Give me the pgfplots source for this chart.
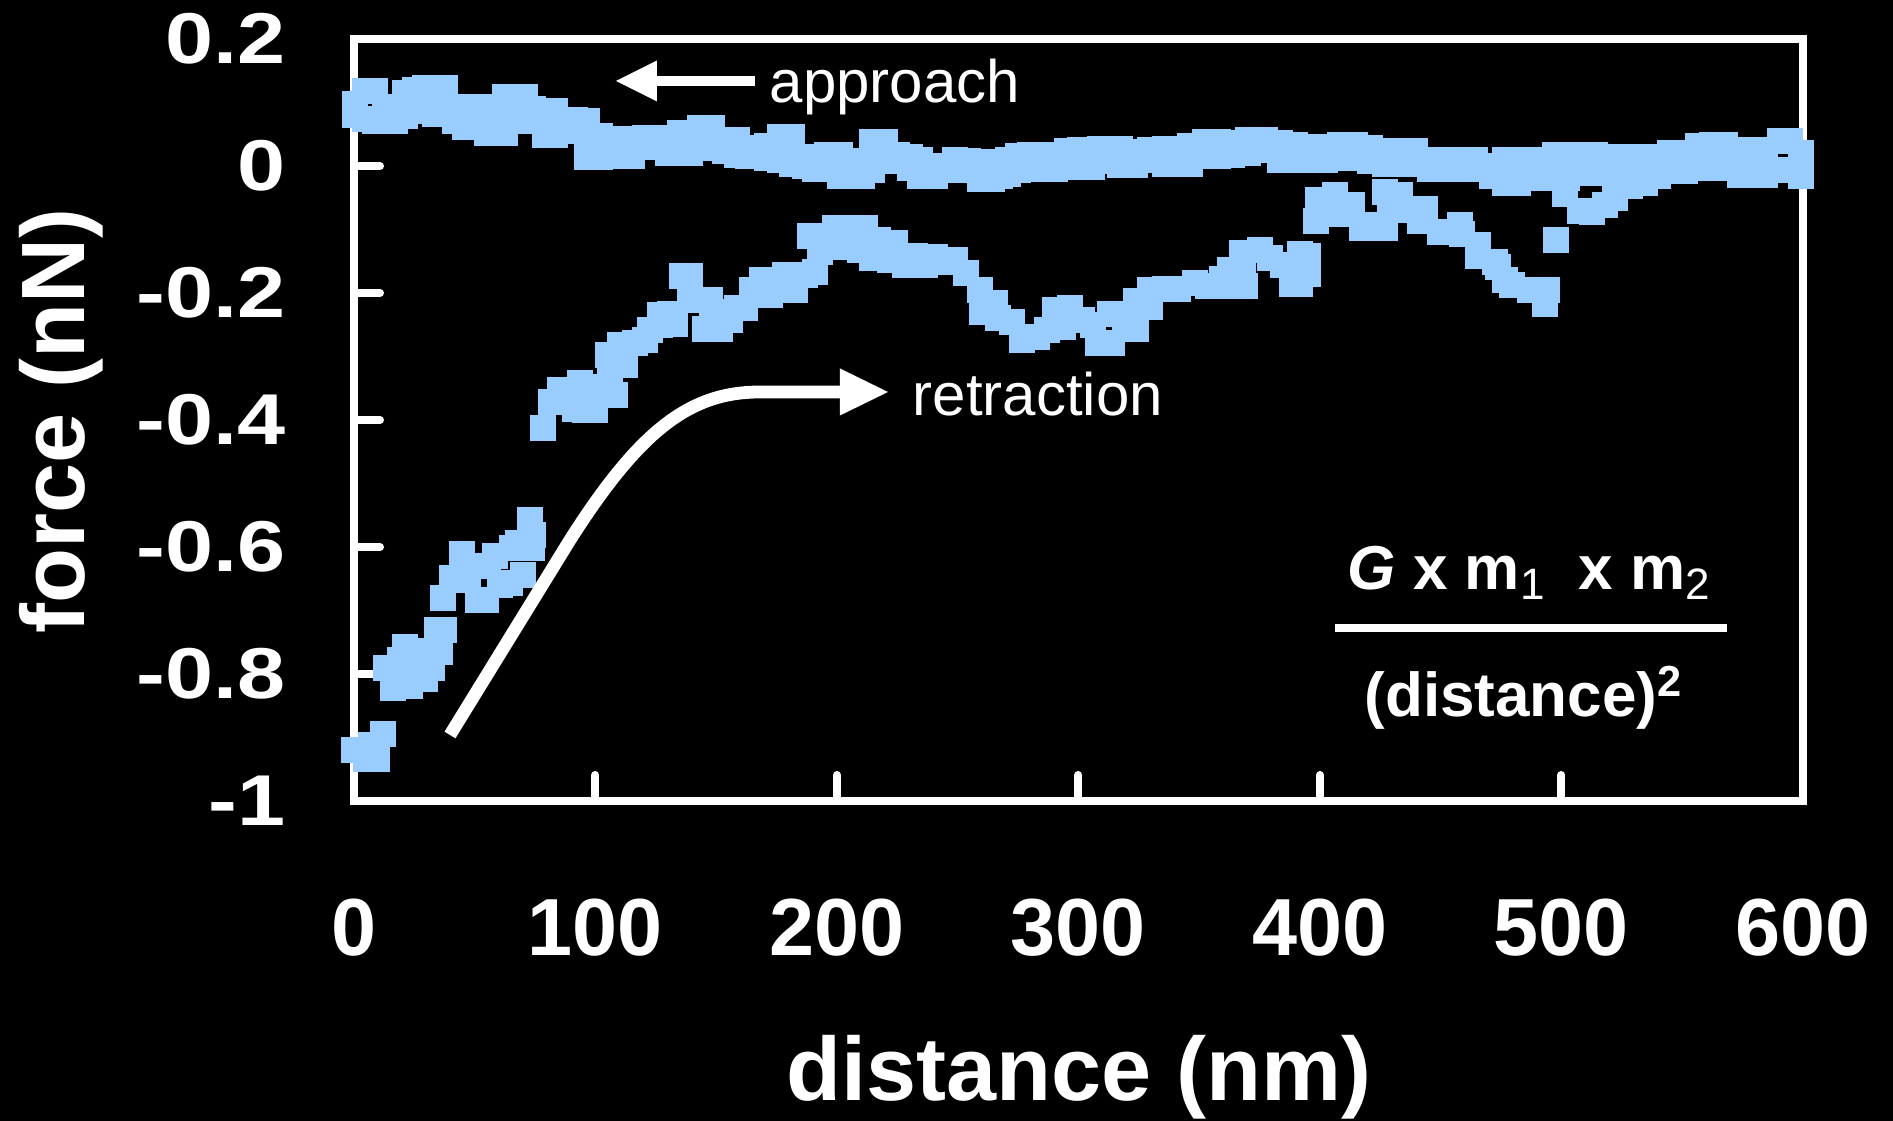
\documentclass[border=0pt]{standalone}
\usepackage{graphicx}
\usepackage{pgfplots}
\pgfplotsset{compat=1.18}
\usepackage{pgfplotstable}
\usepackage{fontspec}
\setmainfont{Liberation Sans}
\definecolor{lb}{RGB}{153,204,255}

\pgfplotstableread{
nm up lo
0.4 0.0973 0.0800
4.6 0.1186 0.0745
8.7 0.1186 0.0713
12.8 0.0934 0.0713
17.0 0.0934 0.0713
21.1 0.1154 0.0792
25.3 0.1202 0.0871
29.4 0.1233 0.0981
33.5 0.1233 0.0824
37.7 0.1233 0.0824
41.8 0.0918 0.0713
46.0 0.0934 0.0619
50.1 0.0934 0.0619
55.1 0.0934 0.0524
59.2 0.0792 0.0524
62.5 0.1091 0.0524
66.7 0.1091 0.0713
70.8 0.1091 0.0713
74.1 0.0902 0.0713
79.1 0.0871 0.0493
83.2 0.0871 0.0493
87.4 0.0729 0.0556
91.5 0.0729 0.0556
96.5 0.0713 0.0146
101.9 0.0477 0.0146
106.8 0.0430 0.0288
111.0 0.0430 0.0162
115.1 0.0430 0.0162
120.5 0.0446 0.0304
125.5 0.0446 0.0304
130.0 0.0446 0.0209
135.0 0.0524 0.0209
139.1 0.0524 0.0209
143.3 0.0603 0.0288
148.2 0.0603 0.0288
153.6 0.0414 0.0241
158.6 0.0414 0.0178
163.1 0.0288 0.0162
167.3 0.0288 0.0162
171.0 0.0320 0.0131
176.4 0.0461 0.0099
181.4 0.0461 0.0036
186.7 0.0146 0.0005
190.9 0.0146 -0.0043
195.9 0.0178 -0.0043
201.2 0.0178 -0.0153
206.2 0.0052 -0.0153
210.4 0.0083 -0.0153
214.5 0.0383 -0.0058
219.9 0.0383 0.0083
224.8 0.0178 0.0099
230.2 0.0146 -0.0027
234.4 0.0099 -0.0153
240.6 0.0005 -0.0153
248.9 0.0099 -0.0058
254.2 0.0083 0.0036
259.2 0.0068 -0.0200
264.2 0.0068 -0.0200
267.5 0.0052 -0.0153
270.8 0.0099 -0.0121
274.9 0.0162 -0.0058
279.9 0.0178 0.0036
284.9 0.0178 -0.0043
290.3 0.0178 -0.0043
295.2 0.0241 -0.0011
300.6 0.0257 -0.0011
305.6 0.0257 -0.0011
308.9 0.0272 0.0083
313.0 0.0272 0.0083
317.2 0.0272 0.0020
323.4 0.0225 0.0020
329.6 0.0257 0.0099
335.8 0.0272 0.0036
341.2 0.0272 0.0036
346.2 0.0320 0.0036
352.4 0.0383 0.0162
357.8 0.0383 0.0162
363.6 0.0367 0.0178
370.2 0.0414 0.0209
377.2 0.0414 0.0257
383.4 0.0367 0.0099
389.6 0.0335 0.0099
395.9 0.0304 0.0099
402.1 0.0304 0.0099
408.3 0.0335 0.0131
414.5 0.0335 0.0131
420.7 0.0288 0.0083
426.9 0.0241 0.0036
433.1 0.0241 0.0036
439.3 0.0241 0.0036
445.5 0.0099 -0.0043
451.8 0.0099 -0.0043
458.0 0.0099 -0.0043
464.2 0.0099 -0.0043
471.2 0.0005 -0.0153
476.6 0.0099 -0.0263
482.0 0.0099 -0.0263
487.0 0.0099 -0.0184
491.9 0.0068 -0.0074
497.3 0.0178 -0.0184
502.3 0.0178 -0.0184
507.7 0.0178 -0.0106
513.9 0.0178 -0.0106
520.1 0.0146 -0.0106
526.3 0.0146 -0.0106
532.5 0.0146 -0.0106
538.7 0.0146 -0.0153
544.9 0.0209 -0.0074
551.1 0.0209 -0.0074
556.5 0.0320 -0.0027
562.3 0.0335 -0.0027
567.7 0.0335 -0.0027
573.9 0.0257 -0.0137
578.9 0.0257 -0.0137
584.3 0.0257 -0.0137
590.5 0.0398 -0.0058
594.6 0.0398 -0.0058
599.2 0.0209 -0.0153
}\approach

\pgfplotstableread{
nm f
0.2 -0.920
5.0 -0.934
7.0 -0.912
9.5 -0.934
12.0 -0.895
13.3 -0.791
16.1 -0.822
19.0 -0.778
21.1 -0.758
23.2 -0.819
25.7 -0.786
28.2 -0.763
29.4 -0.808
32.3 -0.791
34.4 -0.730
35.6 -0.766
36.9 -0.680
37.3 -0.731
40.6 -0.649
44.7 -0.611
47.2 -0.652
51.3 -0.684
54.7 -0.684
55.5 -0.630
58.4 -0.614
60.5 -0.660
64.6 -0.656
65.4 -0.602
67.9 -0.594
70.0 -0.644
72.9 -0.558
73.7 -0.602
74.1 -0.581
78.3 -0.413
81.6 -0.372
85.3 -0.353
89.4 -0.361
91.5 -0.383
93.6 -0.341
95.7 -0.385
99.8 -0.385
101.0 -0.348
105.2 -0.298
106.0 -0.333
108.1 -0.361
110.1 -0.282
112.2 -0.314
116.4 -0.278
120.5 -0.274
122.6 -0.259
126.7 -0.235
126.7 -0.251
130.8 -0.233
132.9 -0.249
135.8 -0.173
139.1 -0.211
139.1 -0.173
145.3 -0.257
147.4 -0.211
148.2 -0.240
151.6 -0.257
151.6 -0.230
155.7 -0.243
158.6 -0.224
161.9 -0.224
164.8 -0.196
168.9 -0.180
172.3 -0.203
174.3 -0.188
178.5 -0.172
182.6 -0.196
186.7 -0.172
188.8 -0.110
190.9 -0.167
193.0 -0.136
196.3 -0.117
199.2 -0.098
203.3 -0.128
207.5 -0.098
209.5 -0.133
211.6 -0.098
214.5 -0.145
217.0 -0.117
221.9 -0.148
224.0 -0.122
228.2 -0.156
232.3 -0.142
236.4 -0.156
240.6 -0.144
244.7 -0.151
248.9 -0.148
253.4 -0.169
259.2 -0.196
260.0 -0.230
265.4 -0.216
266.7 -0.240
272.5 -0.246
276.6 -0.274
282.8 -0.270
287.0 -0.259
290.3 -0.227
293.6 -0.254
296.5 -0.224
301.4 -0.243
306.0 -0.251
308.1 -0.278
313.0 -0.233
313.9 -0.278
319.3 -0.246
323.8 -0.213
323.8 -0.257
329.6 -0.196
329.6 -0.222
335.8 -0.194
341.2 -0.194
348.2 -0.185
353.6 -0.189
359.4 -0.178
362.7 -0.164
363.6 -0.189
367.7 -0.137
368.1 -0.164
368.9 -0.189
375.2 -0.133
379.3 -0.145
384.7 -0.156
388.4 -0.164
388.4 -0.186
391.7 -0.139
391.7 -0.186
395.0 -0.141
395.0 -0.170
398.3 -0.087
399.2 -0.054
406.2 -0.046
408.3 -0.076
413.3 -0.062
417.4 -0.098
421.5 -0.093
426.9 -0.098
426.9 -0.041
429.0 -0.070
433.1 -0.046
433.1 -0.070
441.4 -0.087
443.5 -0.068
449.7 -0.104
458.0 -0.093
458.8 -0.107
465.4 -0.125
465.4 -0.141
472.5 -0.151
473.7 -0.159
476.6 -0.180
479.5 -0.188
487.0 -0.196
493.2 -0.218
494.0 -0.196
497.7 -0.116
501.4 -0.044
507.7 -0.071
512.6 -0.072
518.0 -0.062
522.2 -0.050
528.4 -0.031
534.6 -0.026
540.0 -0.015
}\retraction

\newcommand\ys[1]{\scalebox{1.2}[1]{#1}}

\begin{document}
\begin{tikzpicture}
\fill[black] (0,0) rectangle (473.25bp,280.25bp);
\begin{axis}[
  at={(88.5bp,80bp)}, anchor=south west,
  width=362.25bp, height=190.5bp, scale only axis,
  xmin=0, xmax=600, ymin=-1, ymax=0.2,
  clip=false,
  axis line style={white, line width=2bp},
  tick pos=left, tick align=inside,
  major tick length=6.5bp,
  every tick/.style={white, line width=2bp, line cap=round},
  xtick={0,100,200,300,400,500,600},
  xticklabels={0,100,200,300,400,500,600},
  ytick={-1,-0.8,-0.6,-0.4,-0.2,0,0.2},
  yticklabels={\ys{-1},\ys{-0.8},\ys{-0.6},\ys{-0.4},\ys{-0.2},\ys{0},\ys{0.2}},
  xticklabel style={text=white, font=\fontsize{20.25bp}{24bp}\selectfont\bfseries, anchor=base, yshift=-38.75bp, inner sep=0pt},
  yticklabel style={text=white, font=\fontsize{18bp}{22bp}\selectfont\bfseries, anchor=east, xshift=-17bp, inner sep=0pt},
  blueSq/.style={color=lb, only marks, mark=square*, mark size=3.125bp, mark options={draw=lb, fill=lb, line width=0pt, solid}},
]
\addplot[blueSq] table[x=nm, y=up] {\approach};
\addplot[blueSq] table[x=nm, y=lo] {\approach};
\addplot[blueSq] table[x=nm, y=f] {\retraction};
\end{axis}
\begin{scope}[yshift=280.25bp, x=0.25bp, y=-0.25bp]
  % approach arrow
  \draw[white, line width=2.5bp] (755,81) -- (650,81);
  \fill[white] (616,81) -- (657,60.5) -- (657,101.5) -- cycle;
  \node[text=white, anchor=base west, inner sep=0pt, font=\fontsize{15bp}{18bp}\selectfont] at (769,103) {approach};
  % retraction arrow
  \draw[white, line width=3.2bp] (450,735) -- (570,540) .. controls (640,430) and (690,392) .. (760,392) -- (845,392);
  \fill[white] (888,392) -- (840,368.5) -- (840,415.5) -- cycle;
  \node[text=white, anchor=base west, inner sep=0pt, font=\fontsize{15bp}{18bp}\selectfont] at (912,416) {retraction};
  % formula
  \node[text=white, anchor=base, inner sep=0pt, font=\fontsize{15.5bp}{18bp}\selectfont\bfseries] at (1529,590) {\textit{G} x m\raisebox{-0.3ex}{\fontsize{11bp}{12bp}\selectfont\mdseries 1}\ \ x m\raisebox{-0.3ex}{\fontsize{11bp}{12bp}\selectfont\mdseries 2}};
  \draw[white, line width=2bp] (1335,628) -- (1727,628);
  \node[text=white, anchor=base, inner sep=0pt, font=\fontsize{15.5bp}{18bp}\selectfont\bfseries] at (1524,717) {(distance)\textsuperscript{2}};
  % axis labels
  \node[text=white, anchor=base, inner sep=0pt, font=\fontsize{22.5bp}{26bp}\selectfont\bfseries] at (1079,1101) {distance (nm)};
  \node[text=white, anchor=base, rotate=90, inner sep=0pt, font=\fontsize{22.5bp}{26bp}\selectfont\bfseries] at (84.5,421) {force (nN)};
\end{scope}
\pgfresetboundingbox
\path[use as bounding box] (0,0) rectangle (473.25bp,280.25bp);
\end{tikzpicture}
\end{document}
